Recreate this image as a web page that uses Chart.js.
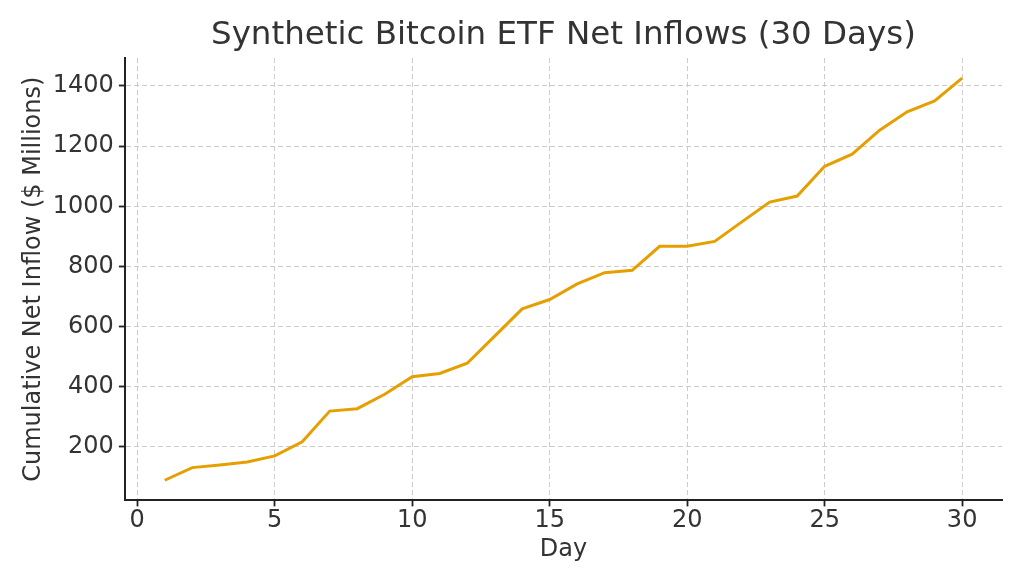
<!DOCTYPE html>
<html>
<head>
<meta charset="utf-8">
<script src="https://cdn.jsdelivr.net/npm/chart.js@4/dist/chart.umd.min.js"></script>
<style>
    html, body { margin: 0; padding: 0; background: #fff; }
    #wrap { width: 1024px; height: 585px; }
</style>
</head>
<body>
<div id="wrap"><canvas id="myChart" width="1024" height="585"></canvas></div>
<script>
const days = [1, 2, 3, 4, 5, 6, 7, 8, 9, 10, 11, 12, 13, 14, 15,
    16, 17, 18, 19, 20, 21, 22, 23, 24, 25, 26, 27, 28, 29, 30];
const inflows = [89, 131, 140, 150, 170, 217, 319, 327, 375, 433,
    444, 478, 568, 659, 690, 742, 779, 787, 867, 867,
    883, 949, 1014, 1034, 1133, 1173, 1253, 1314, 1350, 1426];
const xTicks = [0, 5, 10, 15, 20, 25, 30];
const yTicks = [200, 400, 600, 800, 1000, 1200, 1400];
const chartTitle = 'Synthetic Bitcoin ETF Net Inflows (30 Days)';

const points = days.map((d, i) => {
    return { x: d, y: inflows[i] };
});

const textColor = '#333333';
const font = 'DejaVu Sans';

// title centred over the plot area, like matplotlib does
const plotTitle = {
    id: 'plotTitle',
    afterDraw(chart) {
        const c = chart.ctx;
        const area = chart.chartArea;
        c.save();
        c.fillStyle = textColor;
        c.font = '32.5px "' + font + '"';
        c.textAlign = 'center';
        c.textBaseline = 'middle';
        c.fillText(chartTitle, (area.left + area.right) / 2, 36);
        c.restore();
    }
};

const gridOpts = {
    color: '#cccccc',
    lineWidth: 1,
    drawTicks: true,
    tickColor: '#222222',
    tickLength: 6,
    tickWidth: 1.8,
    tickBorderDash: []
};
const borderOpts = { display: true, color: '#222222', width: 2, dash: [5, 3] };

var ctx = document.getElementById('myChart').getContext('2d');
var chart = new Chart(ctx, { //eslint-disable-line
    type: 'line',
    data: {
        datasets: [{
            label: 'Cumulative Net Inflow',
            data: points,
            borderColor: '#e69f00',
            borderWidth: 3,
            pointRadius: 0,
            tension: 0,
            fill: false
        }]
    },
    plugins: [plotTitle],
    options: {
        responsive: false,
        animation: false,
        layout: { padding: { left: 17, right: 22, top: 58, bottom: 21 } },
        plugins: {
            legend: { display: false },
            tooltip: { enabled: false },
            title: { display: false }
        },
        scales: {
            x: {
                type: 'linear',
                min: -0.45,
                max: 31.45,
                afterBuildTicks: (axis) => {
                    axis.ticks = xTicks.map((v) => ({ value: v }));
                },
                grid: gridOpts,
                border: borderOpts,
                ticks: {
                    color: textColor,
                    font: { family: font, size: 24 },
                    padding: 0,
                    maxRotation: 0,
                    callback: (v) => String(v)
                },
                title: {
                    display: true,
                    text: 'Day',
                    color: textColor,
                    font: { family: font, size: 24 },
                    padding: { top: 0, bottom: 0 }
                }
            },
            y: {
                type: 'linear',
                min: 22,
                max: 1493,
                afterBuildTicks: (axis) => {
                    axis.ticks = yTicks.map((v) => ({ value: v }));
                },
                grid: gridOpts,
                border: borderOpts,
                ticks: {
                    color: textColor,
                    font: { family: font, size: 24 },
                    padding: 5,
                    callback: (v) => String(v)
                },
                title: {
                    display: true,
                    text: 'Cumulative Net Inflow ($ Millions)',
                    color: textColor,
                    font: { family: font, size: 24 },
                    padding: { top: 2, bottom: 0 }
                }
            }
        }
    }
});
</script>
</body>
</html>
